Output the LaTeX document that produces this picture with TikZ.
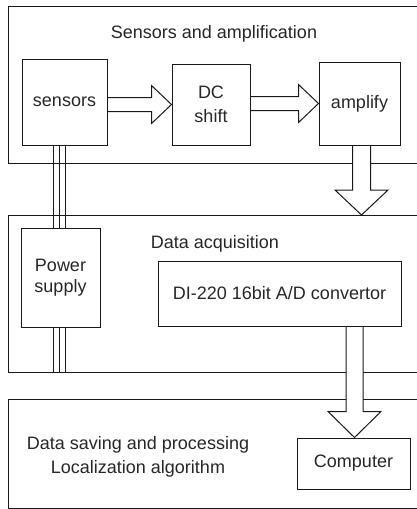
\documentclass[tikz,border=0pt]{standalone}
\usepackage{fontspec}
\setmainfont{Liberation Sans}
\usetikzlibrary{calc}
\begin{document}
\begin{tikzpicture}[x=1pt,y=-1pt,
  panel/.style={draw=black!90, line width=1pt, inner sep=0pt, anchor=north west},
  unit/.style={draw=black!90, line width=1pt, inner sep=0pt, align=center,
    font=\fontsize{18}{24}\selectfont, text=black!85},
  caption/.style={font=\fontsize{18}{24}\selectfont, text=black!85, inner sep=0pt, anchor=base},
  hollow/.style={draw=black!90, line width=1pt, fill=white, line join=miter},
  cable/.style={draw=black!90, line width=1pt}]
\useasboundingbox (0,0) rectangle (417,509);
\clip (0,0) rectangle (417,509);

% the three stages, running off the right edge
\node[panel, minimum width=422pt, minimum height=157pt] (toppanel) at (8,6) {};
\node[panel, minimum width=422pt, minimum height=157pt] (datapanel) at (8,215) {};
\node[panel, minimum width=422pt, minimum height=109pt] (savepanel) at (8,399) {};

% stage captions
\node[caption] (t1) at (214,38) {Sensors and amplification};
\node[caption] (t2) at (215,248) {Data acquisition};
\node[caption] (t3) at (138,449) {Data saving and processing};
\node[caption] (t4) at (138,473) {Localization algorithm};

% processing units
\node[unit, minimum width=85pt, minimum height=86pt] (sensors) at (64.5,102) {sensors};
\node[unit, minimum width=78pt, minimum height=81pt] (dcshift) at (211,104.5) {DC\\shift};
\node[unit, minimum width=81pt, minimum height=83pt] (amplify) at (359.5,103.5) {amplify};
\node[unit, minimum width=79pt, minimum height=99pt,
      font=\fontsize{18}{21}\selectfont] (power) at (60.5,277.5) {Power\\supply};
\node[unit, minimum width=243pt, minimum height=65pt] (adc) at (279.5,293.5) {DI-220 16bit A/D convertor};
\node[unit, minimum width=113pt, minimum height=51pt] (computer) at (353.5,463.5) {Computer};

% hollow block arrows between the units
\foreach \src/\dst in {sensors/dcshift, dcshift/amplify}{
  \draw[hollow] let \p1=(\src.east), \p2=(\dst.west) in
    (\x1+0.5pt,\y2+7pt) -- (\x2-20pt,\y2+7pt) -- (\x2-20pt,\y2+19pt) -- (\x2,\y2)
    -- (\x2-20pt,\y2-19pt) -- (\x2-20pt,\y2-7pt) -- (\x1+0.5pt,\y2-7pt);
}
\draw[hollow] let \p1=(amplify.south), \p2=(datapanel.north) in
  (\x1-7pt,\y1-0.5pt) -- (\x1-7pt,\y2+25pt) -- (\x1-24.5pt,\y2+25pt) -- (\x1+2pt,\y2)
  -- (\x1+28.5pt,\y2+25pt) -- (\x1+11pt,\y2+25pt) -- (\x1+11pt,\y1-0.5pt);
\draw[hollow] let \p1=(adc.south), \p2=(computer.north) in
  (\x2-7.5pt,\y1-0.5pt) -- (\x2-7.5pt,\y2+26pt) -- (\x2-25.5pt,\y2+26pt) -- (\x2+1pt,\y2)
  -- (\x2+27.5pt,\y2+26pt) -- (\x2+9.5pt,\y2+26pt) -- (\x2+9.5pt,\y1-0.5pt);

% three-wire power cable
\foreach \dx in {-7.5,-1.5,4.5}{
  \draw[cable] let \p1=(power.north), \p2=(sensors.south) in
    (\x1+\dx*1pt,\y1) -- (\x1+\dx*1pt,\y2);
  \draw[cable] let \p1=(power.south), \p2=(datapanel.south) in
    (\x1+\dx*1pt,\y1) -- (\x1+\dx*1pt,\y2);
}
\end{tikzpicture}
\end{document}
